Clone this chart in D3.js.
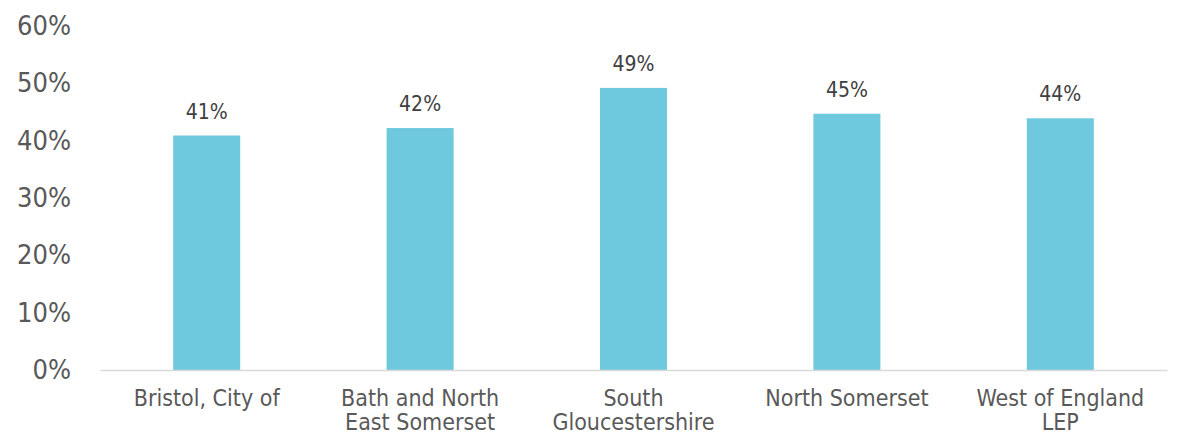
<!DOCTYPE html>
<html>
<head>
<meta charset="utf-8">
<script src="https://cdn.jsdelivr.net/npm/d3@7"></script>
<style>
  html, body { margin: 0; padding: 0; background: #ffffff; }
  svg { display: block; }
  text { font-family: "DejaVu Sans Condensed", "DejaVu Sans", sans-serif; }
</style>
</head>
<body>
<svg id="chart" width="1178" height="436"></svg>
<script>
// Share of residents by area (proportion, 0–1)
const categories = [
  "Bristol, City of",
  "Bath and North East Somerset",
  "South Gloucestershire",
  "North Somerset",
  "West of England LEP"
];
const values = [0.409, 0.422, 0.492, 0.447, 0.439];
const yTicks = [0, 0.1, 0.2, 0.3, 0.4, 0.5, 0.6];

const svg = d3.select("#chart");
const pct = d3.format(".0%");

const x = d3.scaleBand()
  .domain(categories)
  .range([100, 1167])
  .paddingInner(0.686)
  .paddingOuter(0.343);

const y = d3.scaleLinear()
  .domain([0, 0.6])
  .range([370, 26]);

// Y axis: labels only, no line or ticks
const yAxis = svg.append("g")
  .attr("transform", "translate(100,0)")
  .call(d3.axisLeft(y).tickValues(yTicks).tickFormat(pct).tickSize(0).tickPadding(29));
yAxis.select(".domain").remove();
yAxis.selectAll("text")
  .attr("fill", "#595959")
  .style("font-size", "27px")
  .style("font-family", "'DejaVu Sans Condensed', 'DejaVu Sans', sans-serif");

// Bars
svg.append("g")
  .selectAll("rect")
  .data(categories)
  .join("rect")
  .attr("x", d => x(d))
  .attr("width", x.bandwidth())
  .attr("y", (d, i) => y(values[i]))
  .attr("height", (d, i) => y(0) - y(values[i]))
  .attr("fill", "#6ec8de");

// Value labels above bars
svg.append("g")
  .selectAll("text")
  .data(categories)
  .join("text")
  .attr("x", d => x(d) + x.bandwidth() / 2)
  .attr("y", (d, i) => y(values[i]) - 17)
  .attr("text-anchor", "middle")
  .attr("fill", "#404040")
  .style("font-size", "21px")
  .text((d, i) => pct(values[i]));

// X axis with baseline and wrapped category labels
const xAxis = svg.append("g")
  .attr("transform", "translate(0,370)")
  .call(d3.axisBottom(x).tickSize(0).tickPadding(0));
xAxis.select(".domain")
  .attr("stroke", "#d9d9d9")
  .attr("stroke-width", 1.5);

const wrapWidth = x.step() * 0.85;
xAxis.selectAll(".tick text")
  .attr("fill", "#595959")
  .style("font-size", "23px")
  .style("font-family", "'DejaVu Sans Condensed', 'DejaVu Sans', sans-serif")
  .each(function (d) {
    const t = d3.select(this);
    const words = d.split(" ");
    t.text(null);
    const lines = [];
    let line = [];
    const probe = t.append("tspan");
    words.forEach(w => {
      const trial = line.concat(w).join(" ");
      probe.text(trial);
      if (probe.node().getComputedTextLength() > wrapWidth && line.length) {
        lines.push(line.join(" "));
        line = [w];
      } else {
        line.push(w);
      }
    });
    lines.push(line.join(" "));
    probe.remove();
    t.attr("y", 0).attr("dy", null);
    lines.forEach((l, k) => {
      t.append("tspan")
        .attr("x", 0)
        .attr("y", 36 + k * 24)
        .text(l);
    });
  });
</script>
</body>
</html>
